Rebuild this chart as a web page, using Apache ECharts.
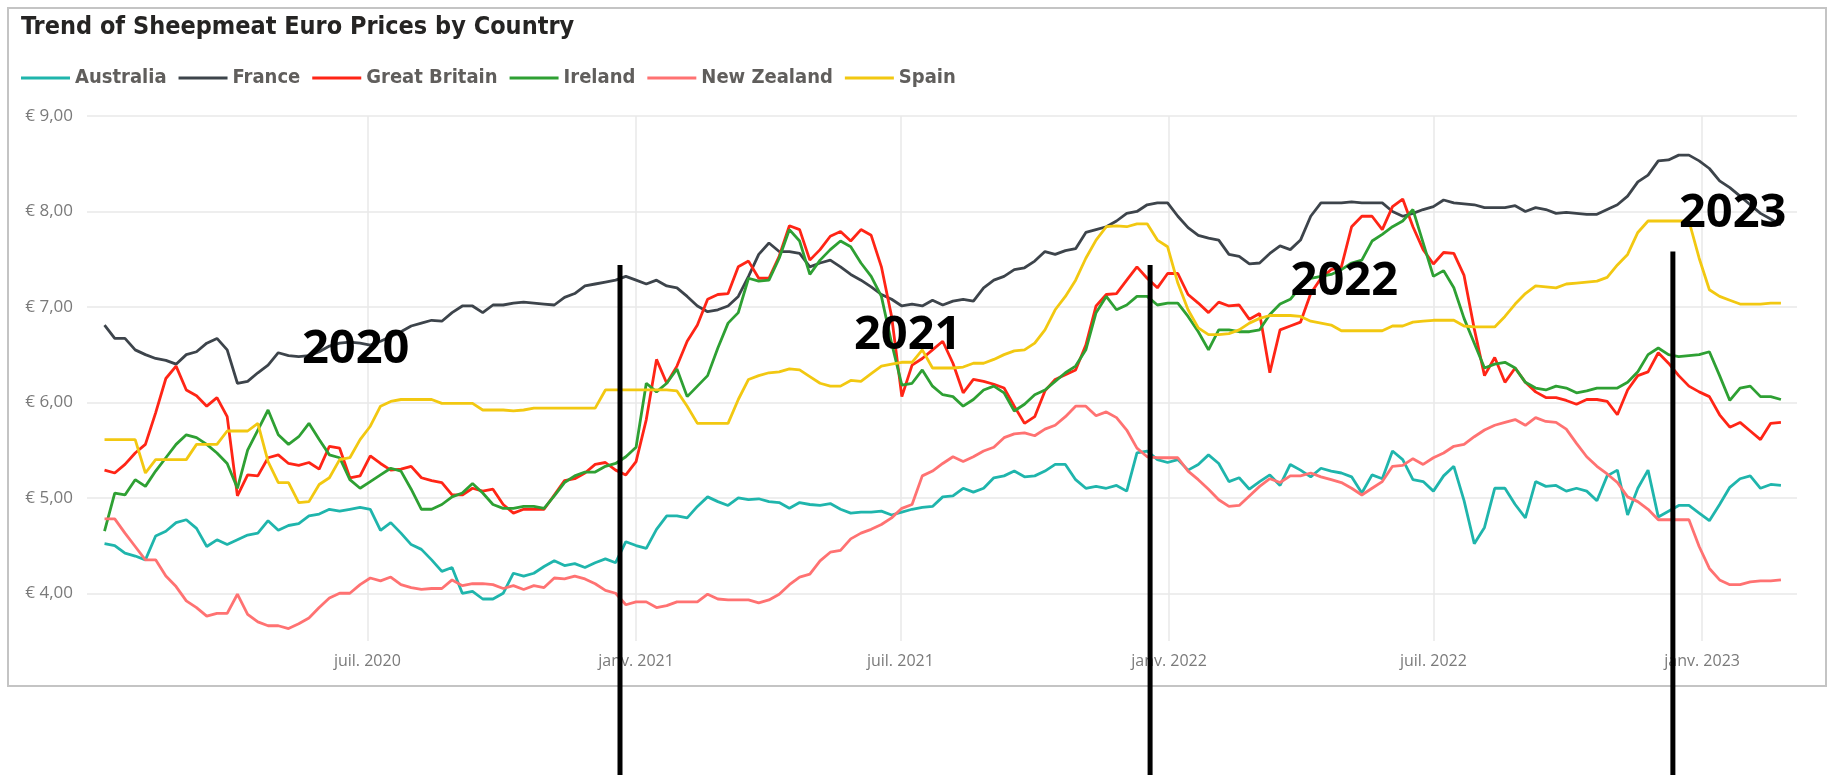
<!DOCTYPE html>
<html>
<head>
<meta charset="utf-8">
<title>Trend of Sheepmeat Euro Prices by Country</title>
<script src="https://cdn.jsdelivr.net/npm/echarts@6/dist/echarts.min.js"></script>
<style>
  html, body { margin: 0; padding: 0; background: #fff; }
  #chart { width: 1829px; height: 775px; }
</style>
</head>
<body>
<div id="chart"></div>
<script>
// weekly prices, first week ending 3 Jan 2020, 165 weeks
const firstWeek = [2020, 0, 3]
const weekCount = 165

const countries = ['Australia', 'France', 'Great Britain', 'Ireland', 'New Zealand', 'Spain']
const colors = ['#1fb5ac', '#3d444b', '#ff2516', '#2ea033', '#ff7272', '#f2c811']

const australia = [
  4.52, 4.50, 4.42, 4.39, 4.35, 4.60, 4.65, 4.74, 4.77, 4.68, 4.49, 4.56, 4.51, 4.56, 4.61, 4.63, 4.76, 4.66, 4.71, 4.73, 4.81, 4.83, 4.88, 4.86, 4.88, 4.90, 4.88, 4.66, 4.74, 4.63, 4.51, 4.46, 4.35,
  4.23, 4.27, 4.00, 4.02, 3.94, 3.94, 4.00, 4.21, 4.18, 4.21, 4.28, 4.34, 4.29, 4.31, 4.27, 4.32, 4.36, 4.32, 4.54, 4.50, 4.47, 4.67, 4.81, 4.81, 4.79, 4.91, 5.01, 4.96, 4.92, 5.00, 4.98, 4.99, 4.96,
  4.95, 4.89, 4.95, 4.93, 4.92, 4.94, 4.88, 4.84, 4.85, 4.85, 4.86, 4.82, 4.85, 4.88, 4.90, 4.91, 5.01, 5.02, 5.10, 5.06, 5.10, 5.21, 5.23, 5.28, 5.22, 5.23, 5.28, 5.35, 5.35, 5.19, 5.10, 5.12,
  5.10, 5.13, 5.07, 5.47, 5.49, 5.40, 5.37, 5.40, 5.29, 5.35, 5.45, 5.36, 5.17, 5.21, 5.09, 5.17, 5.24, 5.13, 5.35, 5.29, 5.22, 5.31, 5.28, 5.26, 5.22, 5.05, 5.24, 5.20, 5.49, 5.40, 5.19, 5.17, 5.07,
  5.23, 5.33, 4.97, 4.52, 4.69, 5.10, 5.10, 4.93, 4.79, 5.17, 5.12, 5.13, 5.07, 5.10, 5.07, 4.97, 5.23, 5.29, 4.82, 5.10, 5.29, 4.80, 4.86, 4.92, 4.92, 4.84, 4.76, 4.93, 5.11, 5.20, 5.23, 5.10, 5.14, 5.13
]
const france = [
  6.81, 6.67, 6.67, 6.55, 6.50, 6.46, 6.44, 6.40, 6.50, 6.53, 6.62, 6.67, 6.55, 6.20, 6.22, 6.31, 6.39, 6.52, 6.49, 6.48, 6.49, 6.53, 6.59, 6.62, 6.63, 6.62, 6.60, 6.64, 6.69, 6.74, 6.80, 6.83, 6.86,
  6.85, 6.94, 7.01, 7.01, 6.94, 7.02, 7.02, 7.04, 7.05, 7.04, 7.03, 7.02, 7.10, 7.14, 7.22, 7.24, 7.26, 7.28, 7.32, 7.28, 7.24, 7.28, 7.22, 7.20, 7.11, 7.01, 6.95, 6.97, 7.01, 7.11, 7.32, 7.55, 7.67,
  7.58, 7.58, 7.56, 7.42, 7.46, 7.49, 7.42, 7.34, 7.28, 7.21, 7.13, 7.08, 7.01, 7.03, 7.01, 7.07, 7.02, 7.06, 7.08, 7.06, 7.20, 7.28, 7.32, 7.39, 7.41, 7.48, 7.58, 7.55, 7.59, 7.61, 7.78, 7.81,
  7.84, 7.90, 7.98, 8.00, 8.07, 8.09, 8.09, 7.95, 7.83, 7.75, 7.72, 7.70, 7.55, 7.53, 7.45, 7.46, 7.56, 7.64, 7.60, 7.70, 7.95, 8.09, 8.09, 8.09, 8.10, 8.09, 8.09, 8.09, 8.00, 7.95, 7.98, 8.02, 8.05,
  8.12, 8.09, 8.08, 8.07, 8.04, 8.04, 8.04, 8.06, 8.00, 8.04, 8.02, 7.98, 7.99, 7.98, 7.97, 7.97, 8.02, 8.07, 8.16, 8.31, 8.38, 8.53, 8.54, 8.59, 8.59, 8.53, 8.45, 8.32, 8.25, 8.16, 8.07, 7.98, 7.92, 7.86
]
const greatBritain = [
  5.29, 5.26, 5.35, 5.47, 5.56, 5.89, 6.25, 6.38, 6.13, 6.07, 5.96, 6.05, 5.85, 5.02, 5.24, 5.23, 5.42, 5.45, 5.36, 5.34, 5.37, 5.30, 5.54, 5.52, 5.21, 5.23, 5.44, 5.36, 5.29, 5.30, 5.33, 5.21, 5.18,
  5.16, 5.03, 5.03, 5.10, 5.07, 5.09, 4.93, 4.84, 4.88, 4.88, 4.88, 5.03, 5.18, 5.20, 5.26, 5.35, 5.37, 5.29, 5.24, 5.38, 5.82, 6.45, 6.20, 6.38, 6.64, 6.81, 7.08, 7.13, 7.14, 7.42, 7.48, 7.30, 7.30,
  7.53, 7.85, 7.81, 7.49, 7.60, 7.74, 7.79, 7.69, 7.81, 7.75, 7.42, 6.90, 6.06, 6.39, 6.46, 6.55, 6.64, 6.41, 6.10, 6.24, 6.22, 6.19, 6.15, 5.96, 5.78, 5.85, 6.12, 6.24, 6.29, 6.34, 6.60, 7.01,
  7.13, 7.14, 7.28, 7.42, 7.30, 7.20, 7.35, 7.35, 7.13, 7.04, 6.94, 7.05, 7.01, 7.02, 6.87, 6.93, 6.31, 6.76, 6.80, 6.84, 7.14, 7.30, 7.39, 7.42, 7.84, 7.95, 7.95, 7.81, 8.05, 8.13, 7.84, 7.60, 7.45,
  7.57, 7.56, 7.33, 6.77, 6.28, 6.47, 6.21, 6.36, 6.21, 6.11, 6.05, 6.05, 6.02, 5.98, 6.03, 6.03, 6.01, 5.87, 6.13, 6.28, 6.32, 6.52, 6.41, 6.28, 6.17, 6.11, 6.06, 5.87, 5.74, 5.79, 5.70, 5.61, 5.78, 5.79
]
const ireland = [
  4.65, 5.05, 5.03, 5.19, 5.12, 5.28, 5.42, 5.56, 5.66, 5.63, 5.56, 5.47, 5.36, 5.10, 5.50, 5.71, 5.92, 5.66, 5.56, 5.64, 5.78, 5.61, 5.45, 5.42, 5.19, 5.10, 5.17, 5.24, 5.31, 5.28, 5.09, 4.88, 4.88,
  4.93, 5.01, 5.05, 5.15, 5.05, 4.93, 4.89, 4.89, 4.91, 4.91, 4.89, 5.02, 5.16, 5.23, 5.27, 5.27, 5.33, 5.36, 5.43, 5.53, 6.20, 6.11, 6.20, 6.35, 6.06, 6.17, 6.28, 6.57, 6.83, 6.94, 7.30, 7.27, 7.28,
  7.51, 7.81, 7.69, 7.34, 7.49, 7.60, 7.69, 7.63, 7.46, 7.32, 7.11, 6.62, 6.18, 6.20, 6.34, 6.17, 6.08, 6.06, 5.96, 6.03, 6.13, 6.17, 6.10, 5.91, 5.98, 6.08, 6.13, 6.22, 6.31, 6.38, 6.55, 6.94,
  7.11, 6.97, 7.02, 7.11, 7.11, 7.02, 7.04, 7.04, 6.90, 6.74, 6.55, 6.76, 6.76, 6.74, 6.74, 6.76, 6.92, 7.03, 7.08, 7.21, 7.30, 7.32, 7.34, 7.39, 7.46, 7.49, 7.69, 7.76, 7.84, 7.90, 8.02, 7.67, 7.32,
  7.38, 7.20, 6.88, 6.62, 6.36, 6.40, 6.42, 6.36, 6.21, 6.15, 6.13, 6.17, 6.15, 6.10, 6.12, 6.15, 6.15, 6.15, 6.21, 6.32, 6.50, 6.57, 6.50, 6.48, 6.49, 6.50, 6.53, 6.28, 6.02, 6.15, 6.17, 6.06, 6.06, 6.03
]
const newZealand = [
  4.78, 4.78, 4.63, 4.49, 4.35, 4.35, 4.18, 4.07, 3.92, 3.85, 3.76, 3.79, 3.79, 3.99, 3.78, 3.70, 3.66, 3.66, 3.63, 3.68, 3.74, 3.85, 3.95, 4.00, 4.00, 4.09, 4.16, 4.13, 4.17, 4.09, 4.06, 4.04, 4.05,
  4.05, 4.14, 4.08, 4.10, 4.10, 4.09, 4.05, 4.08, 4.04, 4.08, 4.06, 4.16, 4.15, 4.18, 4.15, 4.10, 4.03, 4.00, 3.88, 3.91, 3.91, 3.85, 3.87, 3.91, 3.91, 3.91, 3.99, 3.94, 3.93, 3.93, 3.93, 3.90, 3.93,
  3.99, 4.09, 4.17, 4.20, 4.34, 4.43, 4.45, 4.57, 4.63, 4.67, 4.72, 4.79, 4.89, 4.93, 5.23, 5.28, 5.36, 5.43, 5.38, 5.43, 5.49, 5.53, 5.63, 5.67, 5.68, 5.65, 5.72, 5.76, 5.85, 5.96, 5.96, 5.86,
  5.90, 5.84, 5.71, 5.52, 5.43, 5.42, 5.42, 5.42, 5.28, 5.19, 5.09, 4.98, 4.91, 4.92, 5.02, 5.12, 5.20, 5.16, 5.23, 5.23, 5.26, 5.22, 5.19, 5.16, 5.10, 5.03, 5.10, 5.17, 5.33, 5.34, 5.41, 5.35, 5.42,
  5.47, 5.54, 5.56, 5.64, 5.71, 5.76, 5.79, 5.82, 5.76, 5.84, 5.80, 5.79, 5.72, 5.57, 5.43, 5.33, 5.25, 5.16, 5.01, 4.96, 4.88, 4.77, 4.77, 4.77, 4.77, 4.49, 4.26, 4.14, 4.09, 4.09, 4.12, 4.13, 4.13, 4.14
]
const spain = [
  5.61, 5.61, 5.61, 5.61, 5.26, 5.40, 5.40, 5.40, 5.40, 5.56, 5.56, 5.56, 5.70, 5.70, 5.70, 5.78, 5.38, 5.16, 5.16, 4.95, 4.96, 5.14, 5.21, 5.40, 5.42, 5.61, 5.75, 5.96, 6.01, 6.03, 6.03, 6.03, 6.03,
  5.99, 5.99, 5.99, 5.99, 5.92, 5.92, 5.92, 5.91, 5.92, 5.94, 5.94, 5.94, 5.94, 5.94, 5.94, 5.94, 6.13, 6.13, 6.13, 6.13, 6.13, 6.13, 6.13, 6.12, 5.96, 5.78, 5.78, 5.78, 5.78, 6.03, 6.24, 6.28, 6.31,
  6.32, 6.35, 6.34, 6.27, 6.20, 6.17, 6.17, 6.23, 6.22, 6.30, 6.38, 6.40, 6.42, 6.42, 6.55, 6.36, 6.36, 6.36, 6.37, 6.41, 6.41, 6.45, 6.50, 6.54, 6.55, 6.62, 6.76, 6.97, 7.11, 7.28, 7.51, 7.70,
  7.84, 7.85, 7.84, 7.87, 7.87, 7.70, 7.63, 7.25, 6.97, 6.78, 6.71, 6.71, 6.72, 6.76, 6.83, 6.88, 6.91, 6.91, 6.91, 6.90, 6.85, 6.83, 6.81, 6.75, 6.75, 6.75, 6.75, 6.75, 6.80, 6.80, 6.84, 6.85, 6.86,
  6.86, 6.86, 6.80, 6.79, 6.79, 6.79, 6.90, 7.03, 7.14, 7.22, 7.21, 7.20, 7.24, 7.25, 7.26, 7.27, 7.31, 7.44, 7.55, 7.78, 7.90, 7.90, 7.90, 7.90, 7.90, 7.51, 7.18, 7.11, 7.07, 7.03, 7.03, 7.03, 7.04, 7.04
]
const seriesValues = [australia, france, greatBritain, ireland, newZealand, spain]

// axes
const xRange = ['2019-12-22', '2023-03-07']
const xTicks = ['2020-07-01', '2021-01-01', '2021-07-01', '2022-01-01', '2022-07-01', '2023-01-01']
const yTicks = [4, 5, 6, 7, 8, 9]
const yRange = [3.5, 9]
const monthNames = ['janv.', 'févr.', 'mars', 'avr.', 'mai', 'juin', 'juil.', 'août', 'sept.', 'oct.', 'nov.', 'déc.']

// hand-drawn year markers on top of the chart
const markerDates = ['2020-12-21', '2021-12-19', '2022-12-12']
const markerTops = [7.44, 7.44, 7.58]
const yearLabels = ['2020', '2021', '2022', '2023']
const yearLabelDates = ['2020-06-23', '2021-07-06', '2022-05-01', '2023-01-22']
const yearLabelValues = [6.55, 6.70, 7.26, 7.98]

function toTime(s) {
  const p = s.split('-').map(Number)
  return new Date(p[0], p[1] - 1, p[2]).getTime()
}

const weeks = []
for (let i = 0; i < weekCount; i++) {
  weeks.push(new Date(firstWeek[0], firstWeek[1], firstWeek[2] + 7 * i).getTime())
}

const narrowFont = '"Liberation Sans Narrow", "DejaVu Sans Condensed", Arial, sans-serif'
const axisFont = '"Open Sans", "Noto Sans", sans-serif'
const gridColor = '#e9e9e9'

let myChart = echarts.init(document.getElementById('chart'))

myChart.setOption({
  animation: false,
  color: colors,
  title: {
    text: 'Trend of Sheepmeat Euro Prices by Country',
    left: 16,
    top: 10,
    textStyle: {
      fontFamily: narrowFont,
      fontWeight: 'bold',
      fontSize: 25,
      color: '#252423'
    }
  },
  legend: {
    data: countries,
    left: 16,
    top: 63,
    icon: 'rect',
    itemWidth: 49,
    itemHeight: 3,
    itemGap: 12,
    textStyle: {
      fontFamily: narrowFont,
      fontWeight: 'bold',
      fontSize: 20,
      color: '#605e5c'
    }
  },
  grid: {
    left: 87,
    right: 32,
    top: 116,
    bottom: 134,
    containLabel: false,
    outerBoundsMode: 'none'
  },
  // dates kept as timestamps on a value axis so ticks can sit on month starts
  xAxis: {
    type: 'value',
    min: toTime(xRange[0]),
    max: toTime(xRange[1]),
    axisLine: { show: false },
    axisTick: { show: false, customValues: xTicks.map(toTime) },
    splitLine: { show: true, lineStyle: { color: gridColor, width: 1.5 } },
    axisLabel: {
      customValues: xTicks.map(toTime),
      margin: 12,
      fontFamily: axisFont,
      fontSize: 16,
      color: '#7a7a7a',
      formatter: function (value) {
        let d = new Date(value)
        return monthNames[d.getMonth()] + ' ' + d.getFullYear()
      }
    }
  },
  yAxis: {
    type: 'value',
    min: yRange[0],
    max: yRange[1],
    axisLine: { show: false },
    axisTick: { show: false, customValues: yTicks },
    splitLine: { show: true, lineStyle: { color: gridColor, width: 1.5 } },
    axisLabel: {
      customValues: yTicks,
      margin: 14,
      fontFamily: axisFont,
      fontSize: 17,
      color: '#7a7a7a',
      formatter: function (value) {
        return '€ ' + value.toFixed(2).replace('.', ',')
      }
    }
  },
  series: countries.map((name, k) => ({
    name: name,
    type: 'line',
    showSymbol: false,
    symbol: 'none',
    lineStyle: { width: 2.8 },
    data: weeks.map((t, i) => [t, seriesValues[k][i]])
  }))
})

// frame and year annotations, placed through the chart's own scales
let annotations = [{
  type: 'rect',
  shape: { x: 8, y: 8, width: 1818, height: 678 },
  style: { fill: 'none', stroke: '#c4c4c4', lineWidth: 2 },
  z: 100
}]
markerDates.forEach((d, i) => {
  let top = myChart.convertToPixel({ gridIndex: 0 }, [toTime(d), markerTops[i]])
  annotations.push({
    type: 'line',
    shape: { x1: top[0], y1: top[1], x2: top[0], y2: myChart.getHeight() },
    style: { stroke: '#000', lineWidth: 5 },
    z: 110
  })
})
yearLabels.forEach((label, i) => {
  let p = myChart.convertToPixel({ gridIndex: 0 }, [toTime(yearLabelDates[i]), yearLabelValues[i]])
  annotations.push({
    type: 'text',
    x: p[0],
    y: p[1],
    style: {
      text: label,
      fill: '#000',
      font: 'bold 47px "Open Sans", "Noto Sans", sans-serif',
      align: 'center',
      verticalAlign: 'middle',
      textAlign: 'center',
      textVerticalAlign: 'middle'
    },
    z: 120
  })
})
myChart.setOption({ graphic: annotations })
</script>
</body>
</html>
